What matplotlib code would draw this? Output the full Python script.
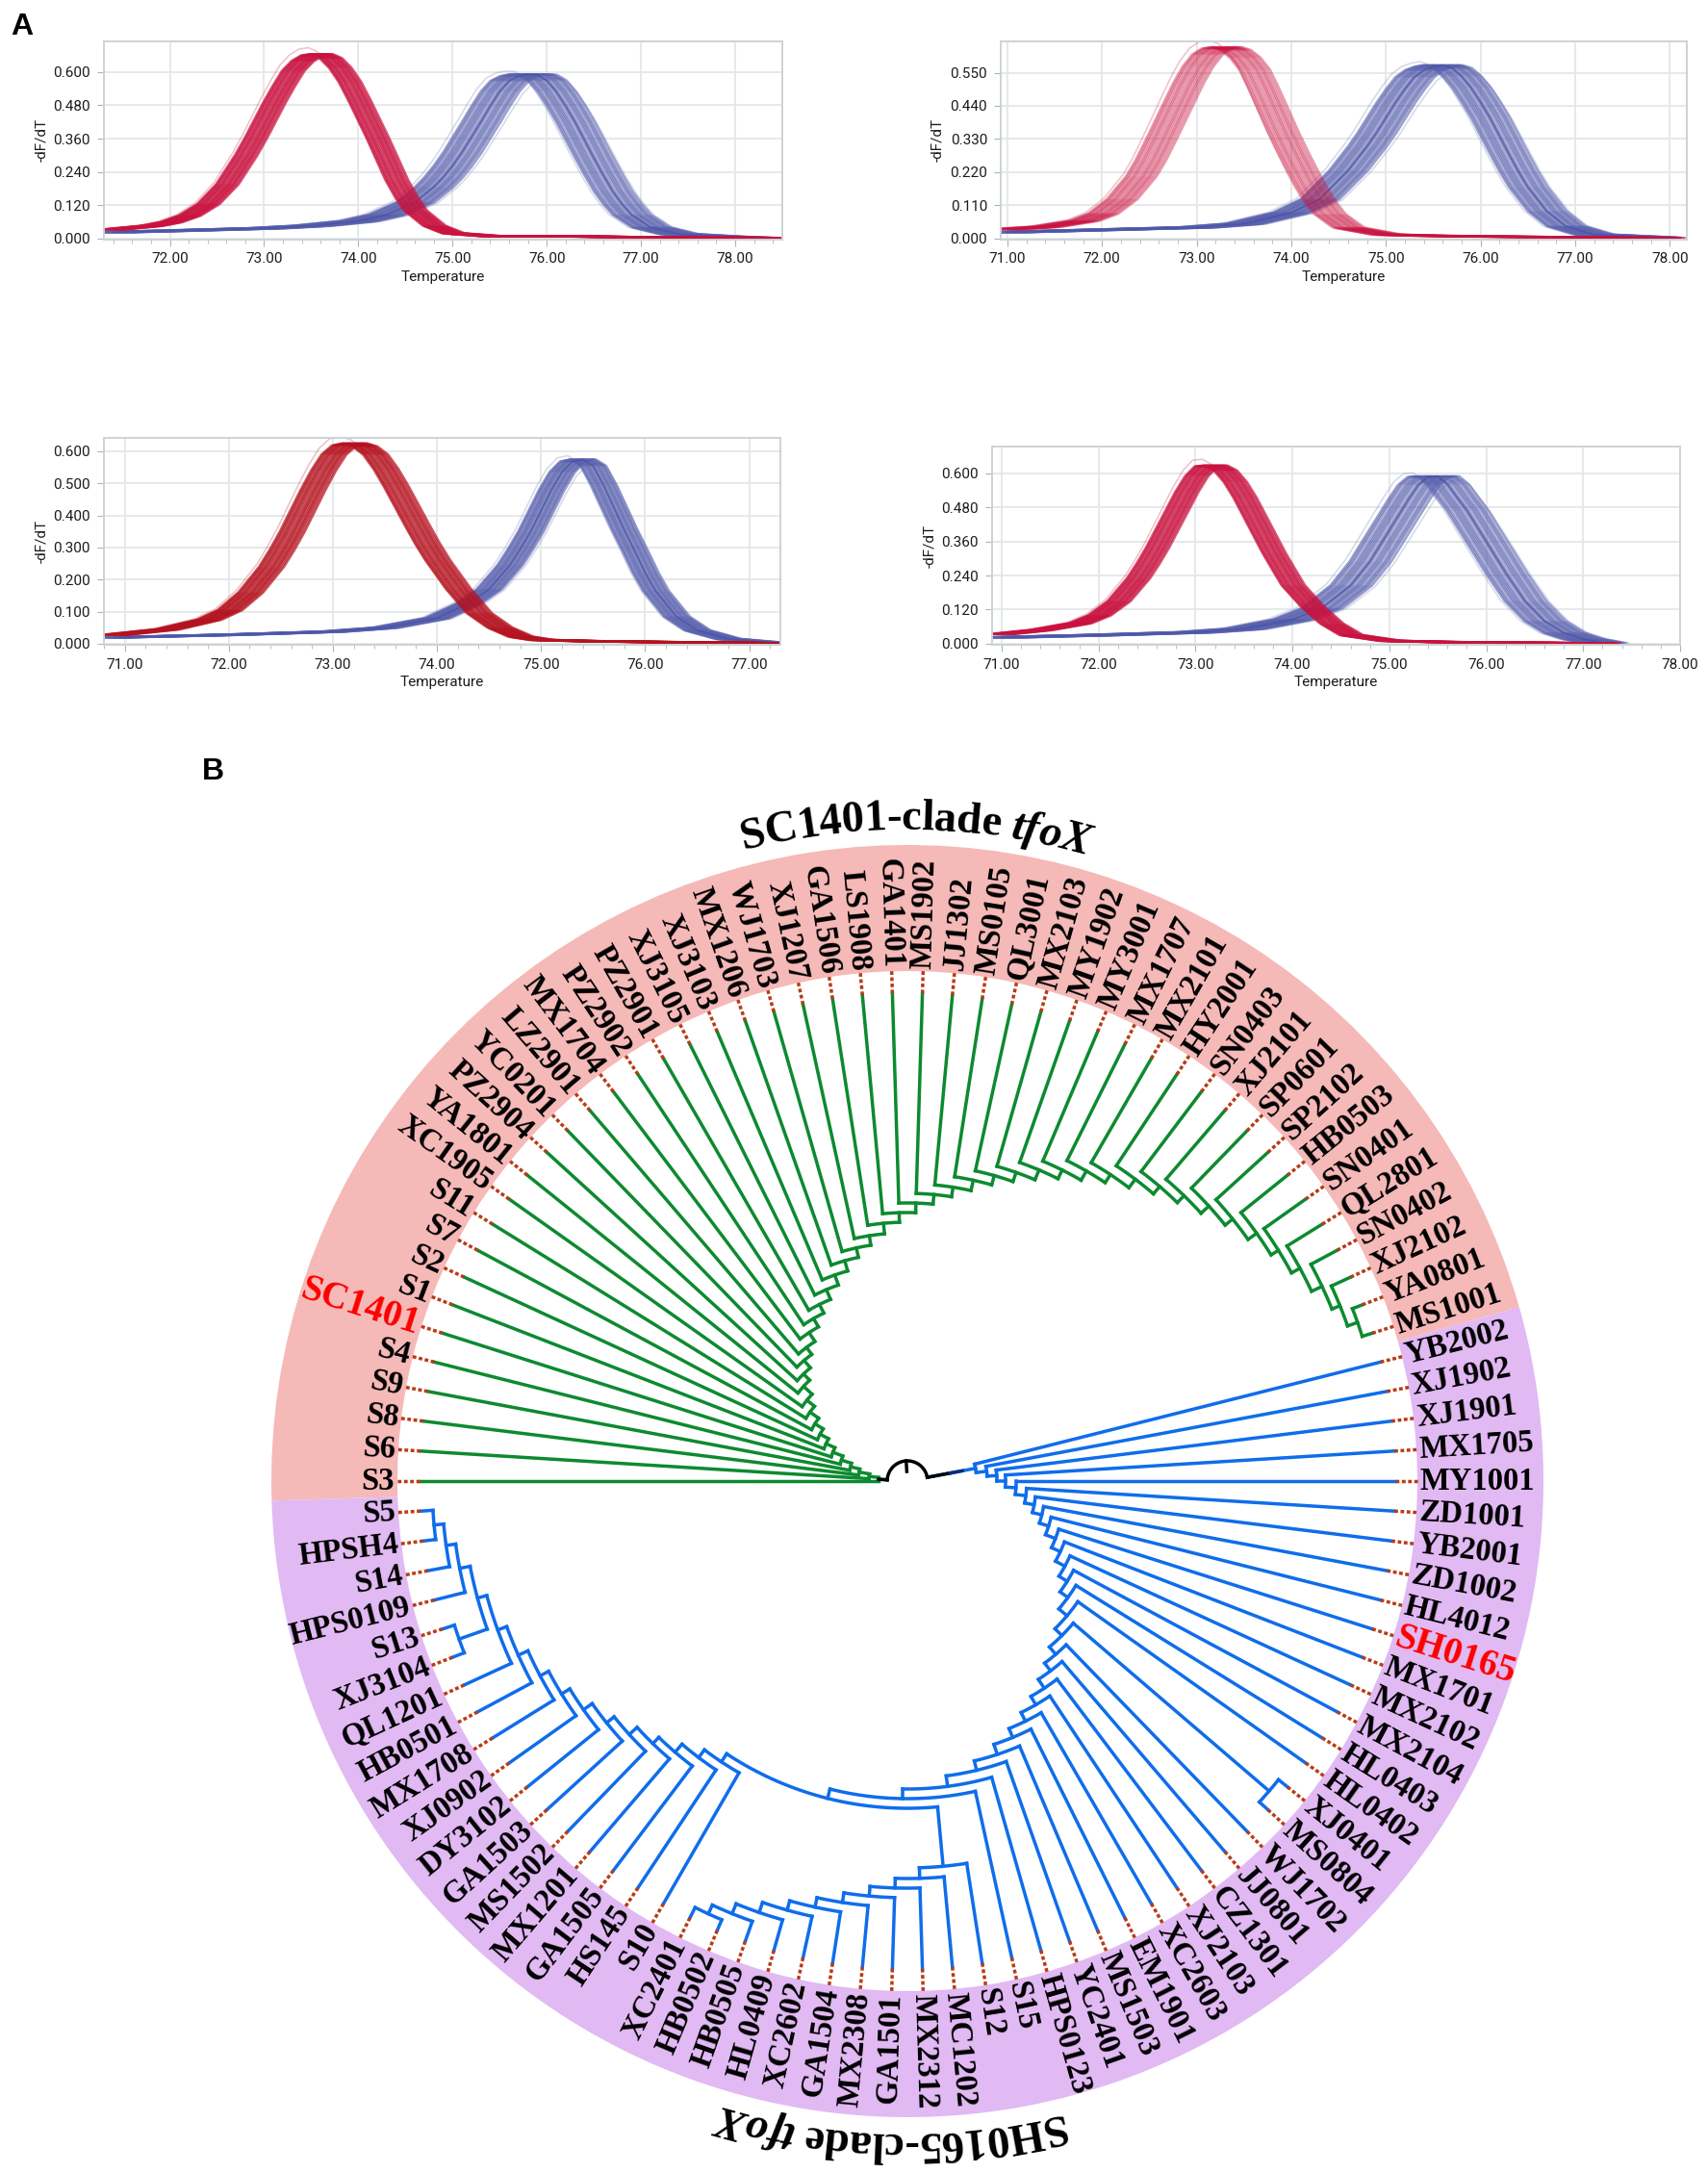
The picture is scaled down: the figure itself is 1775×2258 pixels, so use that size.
import numpy as np
import matplotlib
matplotlib.use('Agg')
import matplotlib.pyplot as plt
from matplotlib.font_manager import FontProperties, findfont, get_font

W, H = 1775, 2258

# melt curves
temp_red_1 = [71.4, 71.8, 72.0, 72.2, 72.4, 72.6, 72.8, 72.9, 73.0, 73.1, 73.2, 73.3, 73.4, 73.5, 73.6, 73.7, 73.8, 73.9, 74.0, 74.1, 74.2, 74.3, 74.4, 74.5, 74.6, 74.8, 75.0, 75.4, 76.0, 77.0, 78.0, 78.45]
df_red_1 = [.032, .045, .058, .082, .124, .195, .300, .360, .425, .490, .550, .605, .640, .660, .665, .650, .615, .565, .500, .430, .360, .285, .210, .150, .100, .045, .018, .008, .008, .004, .002, .001]
temp_blue_1 = [71.4, 72.0, 73.0, 73.5, 74.0, 74.3, 74.6, 74.8, 74.9, 75.0, 75.1, 75.2, 75.3, 75.4, 75.5, 75.6, 75.7, 75.8, 75.9, 76.0, 76.1, 76.2, 76.3, 76.4, 76.5, 76.6, 76.7, 76.8, 76.9, 77.1, 77.4, 78.0, 78.2]
df_blue_1 = [.022, .027, .036, .045, .062, .085, .130, .185, .220, .262, .310, .365, .420, .477, .530, .568, .585, .592, .590, .570, .530, .478, .420, .355, .290, .228, .170, .123, .085, .040, .015, .004, .002]

temp_red_2 = [71.0, 71.4, 71.8, 72.0, 72.2, 72.4, 72.5, 72.6, 72.7, 72.8, 72.9, 73.0, 73.1, 73.2, 73.3, 73.4, 73.5, 73.6, 73.7, 73.8, 73.9, 74.0, 74.1, 74.2, 74.3, 74.4, 74.6, 75.0, 75.5, 76.0, 77.0, 78.0]
df_red_2 = [.030, .038, .058, .082, .130, .205, .258, .320, .385, .450, .515, .570, .610, .630, .635, .625, .600, .560, .495, .425, .355, .290, .228, .170, .120, .080, .035, .012, .008, .006, .003, .001]
temp_blue_2 = [71.0, 72.0, 73.0, 73.5, 74.0, 74.3, 74.6, 74.8, 74.9, 75.0, 75.1, 75.2, 75.3, 75.4, 75.5, 75.6, 75.7, 75.8, 75.9, 76.0, 76.1, 76.2, 76.3, 76.4, 76.5, 76.7, 76.9, 77.2, 77.9]
df_blue_2 = [.020, .028, .036, .048, .085, .130, .225, .305, .350, .400, .450, .495, .535, .558, .570, .575, .565, .538, .500, .452, .400, .340, .280, .222, .170, .090, .040, .012, .002]

temp_red_3 = [70.9, 71.4, 71.8, 72.0, 72.2, 72.4, 72.5, 72.6, 72.7, 72.8, 72.9, 73.0, 73.1, 73.2, 73.3, 73.4, 73.5, 73.6, 73.7, 73.8, 73.9, 74.0, 74.2, 74.4, 74.6, 74.8, 75.0, 75.5, 76.0, 77.2]
df_red_3 = [.028, .045, .075, .105, .160, .240, .292, .350, .415, .480, .540, .590, .618, .625, .615, .590, .545, .490, .430, .370, .312, .260, .170, .095, .050, .022, .012, .008, .006, .002]
temp_blue_3 = [70.9, 72.0, 73.0, 73.5, 74.0, 74.3, 74.5, 74.7, 74.8, 74.9, 75.0, 75.1, 75.2, 75.3, 75.4, 75.5, 75.6, 75.7, 75.8, 75.9, 76.0, 76.1, 76.3, 76.5, 76.8, 77.2]
df_blue_3 = [.020, .028, .038, .050, .080, .125, .170, .245, .295, .350, .415, .480, .535, .568, .575, .555, .495, .425, .355, .290, .222, .165, .085, .042, .015, .004]

temp_red_4 = [71.0, 71.4, 71.8, 72.0, 72.2, 72.4, 72.5, 72.6, 72.7, 72.8, 72.9, 73.0, 73.1, 73.2, 73.3, 73.4, 73.5, 73.6, 73.7, 73.8, 73.9, 74.0, 74.2, 74.4, 74.6, 75.0, 75.5, 76.0, 77.25]
df_red_4 = [.034, .048, .072, .100, .150, .230, .282, .340, .405, .470, .535, .590, .625, .628, .610, .570, .515, .450, .385, .320, .262, .205, .130, .070, .030, .010, .006, .004, .001]
temp_blue_4 = [71.0, 72.0, 73.0, 73.5, 74.0, 74.3, 74.6, 74.8, 74.9, 75.0, 75.1, 75.2, 75.3, 75.4, 75.5, 75.6, 75.7, 75.8, 75.9, 76.0, 76.1, 76.2, 76.4, 76.6, 76.8, 77.0, 77.22]
df_blue_4 = [.022, .030, .040, .052, .085, .125, .205, .290, .345, .400, .455, .510, .560, .588, .590, .562, .515, .470, .415, .360, .305, .250, .150, .080, .038, .016, .002]

# spread of the individual runs inside each bundle (degrees)
shifts_red = [-.11, -.095, -.08, -.06, -.045, -.03, -.01, .01, .025, .04, .06, .075, .09, .11, .13]
shifts_blue = [-.20, -.18, -.16, -.13, -.11, -.09, -.07, -.05, -.02, 0, .02, .05, .07, .09, .11, .14, .16, .18, .21]

# tree leaves, clockwise starting from S3 on the left
leaf_names = ['S3', 'S6', 'S8', 'S9', 'S4', 'SC1401', 'S1', 'S2', 'S7', 'S11', 'XC1905', 'YA1801', 'PZ2904',
              'YC0201', 'LZ2901', 'MX1704', 'PZ2902', 'PZ2901', 'XJ3105', 'XJ3103', 'MX1206', 'WJ1703',
              'XJ1207', 'GA1506', 'LS1908', 'GA1401', 'MS1902', 'JJ1302', 'MS0105', 'QL3001', 'MX2103',
              'MY1902', 'MY3001', 'MX1707', 'MX2101', 'HY2001', 'SN0403', 'XJ2101', 'SP0601', 'SP2102',
              'HB0503', 'SN0401', 'QL2801', 'SN0402', 'XJ2102', 'YA0801', 'MS1001',
              'YB2002', 'XJ1902', 'XJ1901', 'MX1705', 'MY1001', 'ZD1001', 'YB2001', 'ZD1002', 'HL4012',
              'SH0165', 'MX1701', 'MX2102', 'MX2104', 'HL0403', 'HL0402', 'XJ0401', 'MS0804', 'WJ1702',
              'JJ0801', 'CZ1301', 'XJ2103', 'XC2603', 'EM1901', 'MS1503', 'YC2401', 'HPS0123', 'S15',
              'S12', 'MC1202', 'MX2312', 'GA1501', 'MX2308', 'GA1504', 'XC2602', 'HL0409', 'HB0505',
              'HB0502', 'XC2401', 'S10', 'HS145', 'GA1505', 'MX1201', 'MS1502', 'GA1503', 'DY3102',
              'XJ0902', 'MX1708', 'HB0501', 'QL1201', 'XJ3104', 'S13', 'HPS0109', 'S14', 'HPSH4', 'S5']
red_labels = ['SC1401', 'SH0165']

# radius (px from tree centre) of the node where each leaf joins its ladder
green_radii = [30, 40, 51, 61, 72, 83, 93, 103, 113, 124, 134, 146, 155, 165, 174, 185, 195, 205, 216, 227,
               238, 248, 258, 269, 279, 289, 299, 309, 320, 330, 340, 351, 361, 372, 382, 393, 403, 413,
               424, 434, 445, 454, 464, 476, 485]
green_last_r = 496
blue_radii = [72, 83, 93, 102, 113, 124, 134, 144, 154, 165, 175, 186, 196, 206, 217, 227, 237, 247, 258,
              268, 278, 288, 299, 309, 320, 330]
lower_radii = [402, 413, 423, 433, 443, 453, 463, 474, 485]
lower_last_r = 495
left_radii = [350, 360, 371, 380, 391, 401, 412, 422, 432, 443, 453, 463, 474, 484]
left_last_r = 494
pair_right_r = 495
pair_left_r = 494
split_r = 340
root_r = 21

TIP_R = 507
RING_IN = 530
RING_OUT = 661
STEP = 2 * np.pi / len(leaf_names)

GREEN = '#0d8a30'
BLUE = '#0f6deb'
DOT = '#b83c18'
TREE_LW = 2.5


def add_axes_px(left, top, right, bottom, **kw):
    return plt.gcf().add_axes([left / W, 1 - bottom / H, (right - left) / W, (bottom - top) / H], **kw)


def melt_panel(box, xlim, ylim, xticks, yticks, red, blue, red_color='#c9123f', red_alpha=0.7,
               red_spread=1.0, blue_spread=1.0):
    ax = add_axes_px(*box)
    ax.set_xlim(*xlim)
    ax.set_ylim(*ylim)
    ax.set_xticks(xticks)
    ax.set_xticklabels(['%.2f' % t for t in xticks])
    ax.set_yticks(yticks)
    ax.set_yticklabels(['%.3f' % t for t in yticks])
    ax.set_xticks(np.arange(xticks[0] - 1, xticks[-1] + 1, 0.2), minor=True)
    ax.set_xlim(*xlim)
    ax.grid(True, color='#e4e7e7', lw=1.3)
    ax.set_axisbelow(True)
    for s in ['top', 'right', 'left', 'bottom']:
        ax.spines[s].set_color('#ccd3d6')
        ax.spines[s].set_linewidth(1.4)
    ax.tick_params(axis='both', which='major', labelsize=11, length=5, color='#aab4b8', pad=5,
                   labelcolor='#1c1c1c')
    ax.tick_params(axis='x', which='minor', length=3, color='#aab4b8')
    ax.set_xlabel('Temperature', fontsize=11, labelpad=3, color='#1c1c1c')
    ax.set_ylabel('-dF/dT', fontsize=11, labelpad=4, color='#1c1c1c')
    temps, vals = blue
    temps, vals = np.array(temps), np.array(vals)
    # a couple of faint outliers sit slightly above and to the left of the bundle
    ax.plot(temps - 0.24 * blue_spread, vals * 1.02, color='#8f95c8', lw=1.2, alpha=0.35)
    ax.plot(temps + 0.24 * blue_spread, vals * 0.98, color='#8f95c8', lw=1.2, alpha=0.35)
    for s in shifts_blue:
        ax.plot(temps + s * blue_spread, vals, color='#5a62ae', lw=1.8, alpha=0.6)
    ax.plot(temps, vals, color='#3f49a3', lw=1.4, alpha=0.5)
    temps, vals = red
    temps, vals = np.array(temps), np.array(vals)
    ax.plot(temps - 0.13 * red_spread, vals * 1.035, color=red_color, lw=1.2, alpha=0.25)
    for s in shifts_red:
        ax.plot(temps + s * red_spread, vals, color=red_color, lw=1.8, alpha=red_alpha)
    return ax


def ladder(items, radii, tail):
    # build a comb: every item hangs off its own node, nodes nest towards the tail
    node = tail
    for item, r in zip(items[::-1], radii[::-1]):
        node = (r, [item, node])
    return node


def leaf_theta(name):
    return leaf_names.index(name) * STEP


def draw_clade(ax, node, parent_r, color):
    if isinstance(node, str):
        th = leaf_theta(node)
        ax.plot([th, th], [parent_r, TIP_R], color=color, lw=TREE_LW, solid_capstyle='projecting')
        ax.plot([th, th], [TIP_R, RING_IN + 2], color=DOT, lw=TREE_LW, linestyle=(0, (1.1, 0.75)))
        return th
    r, children = node
    angles = [draw_clade(ax, c, r, color) for c in children]
    th = sum(angles) / len(angles)
    arc = np.linspace(min(angles), max(angles), 40)
    ax.plot(arc, np.full(arc.shape, r), color=color, lw=TREE_LW, solid_capstyle='projecting')
    ax.plot([th, th], [parent_r, r], color=color, lw=TREE_LW, solid_capstyle='projecting')
    return th


def curved_title(ax, parts, centre_deg, base_r):
    renderer = plt.gcf().canvas.get_renderer()
    chars = []
    for text, style in parts:
        prop = FontProperties(family='Liberation Serif', weight='bold', style=style, size=33.5)
        ref_w = renderer.get_text_width_height_descent('HH', prop, False)[0]
        font = get_font(findfont(prop))
        font.set_size(33.5, 100)
        for ch in text:
            # advance of one glyph, measured between two others so ink width does not matter
            w = renderer.get_text_width_height_descent('H' + ch + 'H', prop, False)[0] - ref_w
            font.set_text(ch, 0.0)
            chars.append((ch, prop, w, font.get_bitmap_offset()[0] / 64))
    total = sum(c[2] for c in chars)
    pos = np.deg2rad(centre_deg) - total / 2 / (base_r + 10)
    for ch, prop, w, bearing in chars:
        # anchored at the pen position; the tangent is taken at the middle of the glyph
        mid = pos + w / 2 / (base_r + 10)
        rot = 90 - np.rad2deg(mid)
        # Agg adds the left bearing unrotated, so it has to be turned by hand
        a = np.deg2rad(rot)
        off = (bearing * (np.cos(a) - 1) * 0.72, bearing * np.sin(a) * 0.72)
        ax.annotate(ch, xy=(pos, base_r), xytext=off, textcoords='offset points', fontproperties=prop,
                    rotation=rot, rotation_mode='anchor', ha='left', va='baseline', color='black')
        pos += w / (base_r + 10)


def main():
    fig = plt.figure(figsize=(W / 100, H / 100), dpi=100, facecolor='white')
    plt.rcParams['font.family'] = ['Roboto', 'DejaVu Sans']

    melt_panel((108, 43, 813, 248.5), (71.30, 78.50), (-0.003, 0.711),
               [72, 73, 74, 75, 76, 77, 78], [0, .12, .24, .36, .48, .6],
               (temp_red_1, df_red_1), (temp_blue_1, df_blue_1))
    melt_panel((1040, 43, 1753, 248.5), (70.93, 78.18), (-0.003, 0.654),
               [71, 72, 73, 74, 75, 76, 77, 78], [0, .11, .22, .33, .44, .55],
               (temp_red_2, df_red_2), (temp_blue_2, df_blue_2), red_alpha=0.42,
               red_spread=1.35, blue_spread=1.0)
    melt_panel((108, 455, 811, 670), (70.80, 77.30), (-0.003, 0.642),
               [71, 72, 73, 74, 75, 76, 77], [0, .1, .2, .3, .4, .5, .6],
               (temp_red_3, df_red_3), (temp_blue_3, df_blue_3), red_color='#b5121f',
               red_spread=1.0, blue_spread=0.6)
    melt_panel((1031, 464, 1746, 670), (70.90, 78.00), (-0.004, 0.695),
               [71, 72, 73, 74, 75, 76, 77, 78], [0, .12, .24, .36, .48, .6],
               (temp_red_4, df_red_4), (temp_blue_4, df_blue_4), blue_spread=1.05)

    # circular tree on one polar axes, S3 at 9 o'clock, running clockwise
    rmax = 715
    ax = add_axes_px(943 - rmax, 1539 - rmax, 943 + rmax, 1539 + rmax, projection='polar')
    ax.set_theta_zero_location('W')
    ax.set_theta_direction(-1)
    ax.set_rlim(0, rmax)
    ax.axis('off')

    n_green = 47
    start = -0.5 * STEP
    ax.bar(start + n_green * STEP / 2, RING_OUT - RING_IN, width=n_green * STEP, bottom=RING_IN,
           color='#f5b9b8', linewidth=0)
    n_blue = len(leaf_names) - n_green
    ax.bar(start + (n_green + n_blue / 2) * STEP, RING_OUT - RING_IN, width=n_blue * STEP, bottom=RING_IN,
           color='#e1b9f3', linewidth=0)

    green_tree = ladder(leaf_names[:45], green_radii, (green_last_r, ['YA0801', 'MS1001']))

    pair_right = (pair_right_r, ['XJ0401', 'MS0804'])
    pair_left = (pair_left_r, ['XJ3104', 'S13'])
    lower = ladder(leaf_names[74:83], lower_radii, (lower_last_r, ['HB0502', 'XC2401']))
    left = ladder(leaf_names[85:96] + [pair_left, 'HPS0109', 'S14'], left_radii, (left_last_r, ['HPSH4', 'S5']))
    blue_tree = ladder(leaf_names[47:62] + [pair_right] + leaf_names[64:74], blue_radii,
                       (split_r, [lower, left]))

    th_green = draw_clade(ax, green_tree, root_r, GREEN)
    th_blue = draw_clade(ax, blue_tree, root_r, BLUE)

    # root: black arc and tick, the stem to the blue clade fades from black to blue
    arc = np.linspace(th_green, th_blue, 40)
    ax.plot(arc, np.full(arc.shape, root_r), color='black', lw=TREE_LW)
    ax.plot([th_green, th_green], [root_r, green_radii[0]], color='black', lw=TREE_LW)
    ax.plot([th_blue, th_blue], [root_r, 45], color='black', lw=TREE_LW)
    ax.plot([th_blue, th_blue], [45, 58], color='#0a2a78', lw=TREE_LW)
    root_th = (th_green + th_blue) / 2
    ax.plot([root_th, root_th], [10, root_r], color='black', lw=TREE_LW)

    for name in leaf_names:
        th = leaf_theta(name)
        math_deg = 180 - np.rad2deg(th)
        right_side = np.cos(np.deg2rad(math_deg)) >= 0
        is_red = name in red_labels
        ax.text(th, RING_IN + 3, name, family='Liberation Serif', weight='bold',
                fontsize=28 if is_red else 23.5, color='#ff0000' if is_red else 'black',
                rotation=math_deg if right_side else math_deg + 180, rotation_mode='anchor',
                ha='left' if right_side else 'right', va='center')

    curved_title(ax, [('SC1401-clade ', 'normal'), ('tfoX', 'italic')], 90.7, 677)
    curved_title(ax, [('SH0165-clade ', 'normal'), ('tfoX', 'italic')], 271.3, 677)

    fig.text(11 / W, 1 - 36 / H, 'A', family='Liberation Sans', weight='bold', fontsize=23)
    fig.text(210 / W, 1 - 810 / H, 'B', family='Liberation Sans', weight='bold', fontsize=23)

    fig.savefig('out.png', dpi=100, facecolor='white')


if __name__ == '__main__':
    main()
